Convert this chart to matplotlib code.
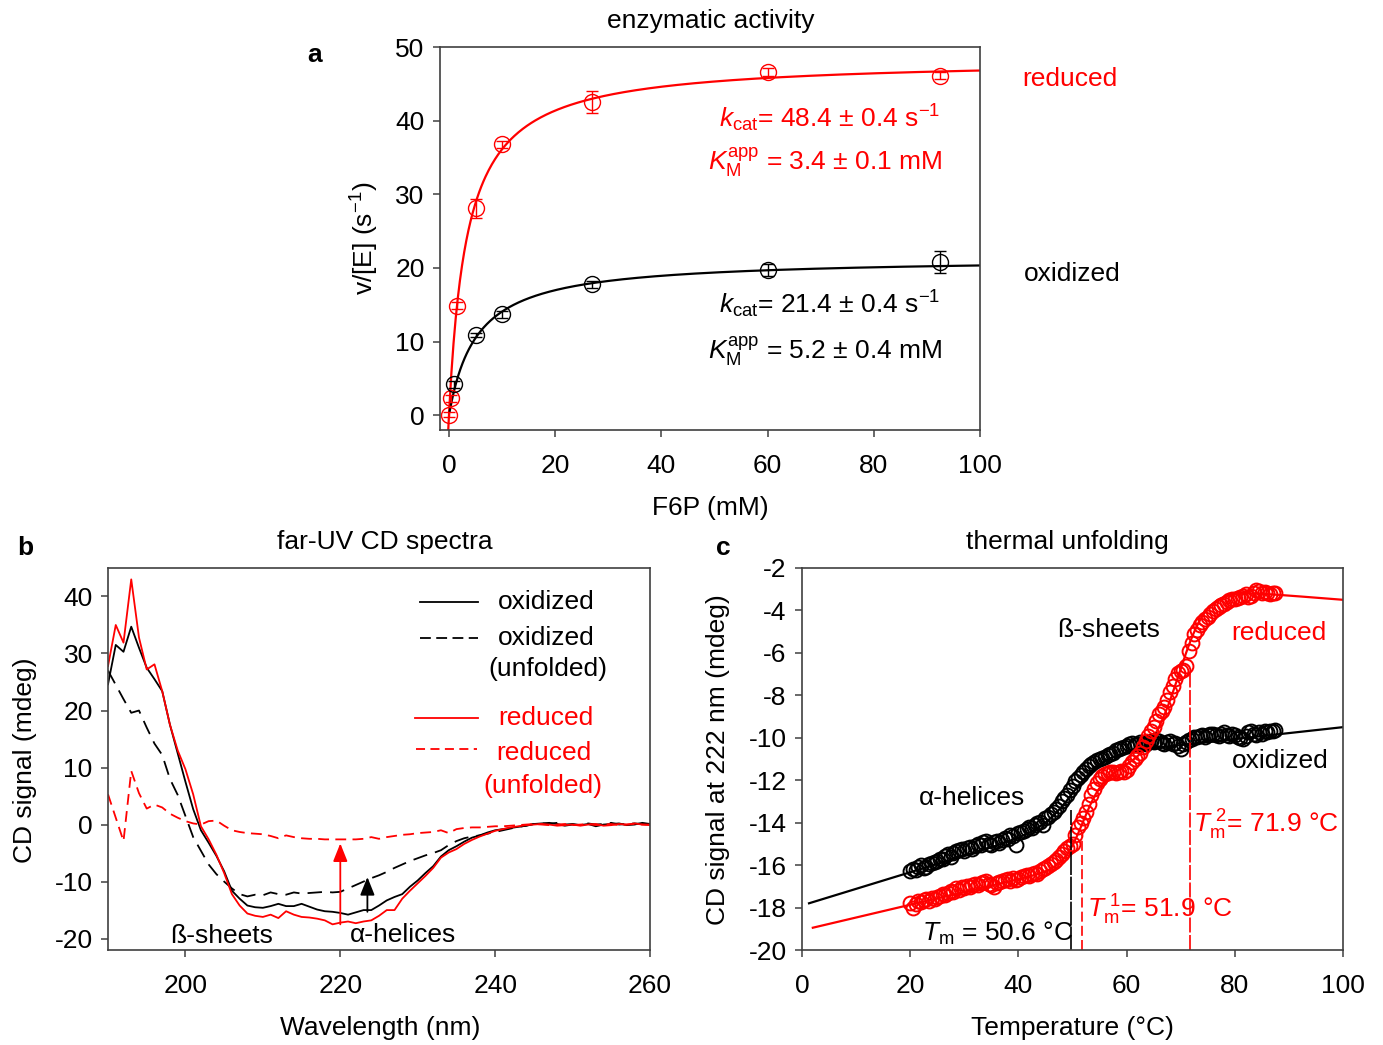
import numpy as np
import matplotlib
matplotlib.use("Agg")
import matplotlib.pyplot as plt

plt.rcParams['font.family'] = ['Liberation Sans', 'DejaVu Sans']
plt.rcParams['mathtext.fontset'] = 'custom'
plt.rcParams['mathtext.rm'] = 'Liberation Sans'
plt.rcParams['mathtext.it'] = 'Liberation Sans:italic'
plt.rcParams['mathtext.bf'] = 'Liberation Sans:bold'
plt.rcParams['axes.unicode_minus'] = False

FS = 19
RED = '#ff0000'
BLK = '#000000'
SPINE = '#404040'

# ---------------- panel a data ----------------
f6p_red = [0, 0.4, 1.5, 5, 10, 27, 60, 92.5]
v_red = [0.1, 2.3, 14.9, 28.1, 36.8, 42.5, 46.6, 46.1]
err_red = [0.3, 0.5, 0.5, 1.3, 0.5, 1.5, 0.5, 0.5]
f6p_ox = [1, 5, 10, 27, 60, 92.5]
v_ox = [4.2, 10.9, 13.7, 17.8, 19.7, 20.8]
err_ox = [0.5, 0.3, 0.5, 0.5, 0.8, 1.5]
kcat_red, km_red = 48.4, 3.4
kcat_ox, km_ox = 21.4, 5.2

# ---------------- panel b data ----------------
wl = list(range(190, 261))
cd_ox = [24.6, 31.5, 30.3, 34.7, 31.0, 27.5, 25.5, 23.4, 17.5, 12.5,
         7.5, 2.7, -1.0, -3.2, -5.5, -8.2, -11.6, -13.0, -14.2, -14.5,
         -14.6, -14.3, -13.9, -14.3, -14.3, -13.9, -14.4, -14.9, -15.2, -15.3,
         -15.5, -15.8, -15.4, -15.0, -15.0, -14.2, -13.3, -12.7, -12.2, -10.9,
         -9.8, -8.5, -7.3, -5.6, -4.5, -3.8, -3.0, -2.3, -1.9, -1.4,
         -1.0, -0.8, -0.6, -0.4, -0.2, 0.1, 0.2, 0.3, 0.1, -0.2,
         0.0, -0.1, 0.1, -0.3, 0.0, 0.1, 0.2, -0.1, 0.0, 0.3, 0.1]
cd_red = [27.8, 35.0, 31.9, 43.0, 32.8, 27.2, 28.1, 23.4, 17.5, 13.0,
          9.7, 5.3, -0.3, -2.6, -5.3, -8.5, -12.2, -14.2, -15.6, -16.0,
          -16.2, -15.8, -16.4, -15.2, -15.8, -16.2, -16.3, -16.5, -16.8, -17.5,
          -17.2, -17.0, -17.3, -17.0, -16.8, -16.0, -15.0, -15.0, -13.0, -11.6,
          -10.3, -9.0, -7.6, -5.8, -4.9, -4.3, -3.4, -2.7, -2.1, -1.6,
          -1.1, -0.8, -0.5, -0.3, -0.1, 0.0, 0.1, 0.0, -0.2, -0.1,
          0.0, -0.2, 0.0, 0.1, -0.2, -0.1, 0.1, 0.0, 0.2, 0.0, -0.1]
cd_ox_unf = [27.0, 24.5, 22.0, 19.6, 20.0, 17.0, 14.2, 12.2, 8.0, 5.2,
             1.5, -2.2, -4.6, -7.0, -8.7, -10.0, -11.2, -12.2, -12.6, -12.3,
             -12.4, -11.9, -12.2, -12.3, -11.9, -12.1, -12.0, -11.9, -11.8, -11.9,
             -11.8, -11.2, -10.6, -10.0, -9.4, -8.9, -8.3, -7.6, -7.0, -6.4,
             -5.9, -5.4, -5.0, -4.5, -3.6, -2.9, -2.4, -2.1, -1.9, -1.6,
             -1.3, -1.0, -0.7, -0.4, -0.2, 0.1, 0.2, 0.1, 0.3, 0.0,
             0.1, -0.1, 0.2, 0.0, 0.1, 0.3, 0.0, 0.1, 0.2, 0.1, 0.0]
cd_red_unf = [5.3, 1.2, -2.9, 9.4, 5.5, 2.8, 3.5, 3.0, 1.9, 1.2,
              0.6, 0.2, 0.0, 0.6, 0.7, -0.2, -1.0, -1.3, -1.5, -1.6,
              -1.7, -2.0, -2.4, -1.9, -2.2, -2.4, -2.5, -2.5, -2.6, -2.6,
              -2.6, -2.6, -2.6, -2.5, -2.2, -2.5, -2.2, -2.0, -1.8, -1.7,
              -1.5, -1.4, -1.3, -1.0, -1.5, -0.8, -0.6, -0.5, -0.5, -0.4,
              -0.3, -0.3, -0.2, -0.1, 0.0, 0.1, 0.0, -0.1, 0.0, 0.1,
              -0.1, 0.0, 0.1, -0.1, 0.0, 0.1, -0.1, 0.0, 0.1, 0.0, 0.0]
arrow_x = [220.0, 223.5]
arrow_from = [-17.5, -15.3]
arrow_to = [-3.3, -9.2]

# ---------------- panel c data ----------------
temp = [20 + 0.5 * i for i in range(136)]
cd222_ox = [-16.3, -16.2, -16.25, -16.1, -16.0, -16.15, -16.1, -15.95, -15.9, -15.85,
            -15.8, -15.7, -15.7, -15.55, -15.5, -15.6, -15.45, -15.35, -15.3, -15.25,
            -15.35, -15.2, -15.15, -15.25, -15.1, -15.0, -15.05, -14.9, -14.85, -15.0,
            -15.05, -14.9, -14.85, -14.95, -14.8, -14.7, -14.75, -14.6, -14.65, -15.05,
            -14.5, -14.45, -14.4, -14.3, -14.2, -14.25, -14.1, -14.0, -13.95, -14.1,
            -13.8, -13.75, -13.6, -13.5, -13.35, -13.2, -13.0, -12.85, -12.7, -12.45,
            -12.25, -12.05, -11.9, -11.75, -11.6, -11.45, -11.35, -11.25, -11.15, -11.05,
            -11.0, -10.95, -10.9, -10.8, -10.75, -10.7, -10.6, -10.55, -10.5, -10.45,
            -10.4, -10.3, -10.25, -10.35, -10.3, -10.2, -10.25, -10.3, -10.2, -10.15,
            -10.2, -10.1, -10.15, -10.25, -10.3, -10.2, -10.15, -10.3, -10.25, -10.4,
            -10.55, -10.3, -10.2, -10.1, -10.05, -9.95, -9.95, -9.9, -9.85, -9.95,
            -9.85, -9.8, -9.8, -9.85, -9.9, -9.8, -9.75, -9.85, -9.9, -9.8,
            -9.85, -9.95, -10.0, -10.05, -9.9, -9.75, -9.7, -9.8, -9.85, -9.75,
            -9.8, -9.7, -9.75, -9.7, -9.7, -9.65]
cd222_red = [-17.8, -18.0, -17.85, -17.7, -17.75, -17.65, -17.6, -17.7, -17.55, -17.6,
             -17.5, -17.45, -17.35, -17.4, -17.3, -17.2, -17.25, -17.1, -17.15, -17.05,
             -17.1, -17.0, -17.05, -16.95, -16.9, -16.95, -16.85, -16.8, -16.75, -16.9,
             -16.95, -17.05, -16.85, -16.8, -16.75, -16.7, -16.65, -16.75, -16.6, -16.7,
             -16.65, -16.55, -16.5, -16.45, -16.5, -16.4, -16.35, -16.4, -16.3, -16.2,
             -16.15, -16.05, -15.95, -15.85, -15.75, -15.6, -15.5, -15.35, -15.2, -15.1,
             -15.0, -14.6, -14.2, -14.0, -13.8, -13.5, -13.1, -12.7, -12.4, -12.15,
             -11.95, -11.8, -11.7, -11.65, -11.6, -11.6, -11.65, -11.6, -11.55, -11.6,
             -11.5, -11.35, -11.15, -11.0, -10.85, -10.7, -10.45, -10.15, -9.9, -9.7,
             -9.5, -9.2, -8.9, -8.75, -8.55, -8.2, -7.85, -7.55, -7.25, -6.95,
             -6.85, -6.8, -6.6, -5.9, -5.55, -5.1, -4.9, -4.7, -4.55, -4.4,
             -4.3, -4.15, -4.05, -3.95, -3.85, -3.75, -3.7, -3.6, -3.5, -3.45,
             -3.45, -3.4, -3.35, -3.3, -3.25, -3.35, -3.3, -3.2, -3.05, -3.1,
             -3.2, -3.15, -3.2, -3.25, -3.2, -3.2]
# two-state fit curve (oxidized): lower baseline a1+b1*T, upper a2+b2*T
fit_ox = dict(a1=-17.9, b1=0.078, a2=-12.3, b2=0.028, tm=50.6, w=2.8)
# three-state fit curve (reduced)
fit_red = dict(a1=-19.07, b1=0.06, mid=-11.55, mid_slope=0.08, mid_ref=58.0,
               a3=-1.5, b3=-0.02, tm1=51.9, w1=1.8, tm2=70.0, w2=2.6)
tm_lines_x = [49.7, 51.8, 71.8]
tm_lines_top = [-13.4, -14.6, -6.8]

# ---------------- figure ----------------
fig = plt.figure(figsize=(13.83, 10.45), dpi=100)


def style_axes(ax, xpad=12, ypad=6):
    for s in ax.spines.values():
        s.set_color(SPINE)
        s.set_linewidth(1.2)
    ax.tick_params(direction='out', length=5, width=1.1, color=SPINE,
                   labelsize=FS, top=False, right=False)
    ax.tick_params(axis='x', pad=xpad)
    ax.tick_params(axis='y', pad=ypad)


# ---- panel a ----
axa = fig.add_axes([0.3181, 0.5885, 0.3905, 0.3665])
xr = np.linspace(-0.14, 100, 500)
xo = np.linspace(0.15, 100, 500)
axa.plot(xr, kcat_red * xr / (km_red + xr), color=RED, lw=1.6)
axa.plot(xo, kcat_ox * xo / (km_ox + xo), color=BLK, lw=1.6)
axa.errorbar(f6p_red, v_red, yerr=err_red, fmt='o', mfc='none', mec=RED,
             ecolor=RED, ms=11.5, mew=1.0, elinewidth=1.0, capsize=4.3, capthick=1.0)
axa.errorbar(f6p_ox, v_ox, yerr=err_ox, fmt='o', mfc='none', mec=BLK,
             ecolor=BLK, ms=11.5, mew=1.0, elinewidth=1.0, capsize=4.3, capthick=1.0)
axa.set_xlim(-1.7, 100)
axa.set_ylim(-2, 50)
axa.set_xticks([0, 20, 40, 60, 80, 100])
axa.set_yticks([0, 10, 20, 30, 40, 50])
style_axes(axa)
axa.text(0.926, 0.791, r"$k_{\mathrm{cat}}$= 48.4 ± 0.4 s$^{\mathrm{-1}}$",
         transform=axa.transAxes, ha='right', va='baseline', color=RED, fontsize=FS)
axa.text(0.93, 0.679, r"$K_{\mathrm{M}}^{\mathrm{app}}$ = 3.4 ± 0.1 mM",
         transform=axa.transAxes, ha='right', va='baseline', color=RED, fontsize=FS)
axa.text(0.926, 0.305, r"$k_{\mathrm{cat}}$= 21.4 ± 0.4 s$^{\mathrm{-1}}$",
         transform=axa.transAxes, ha='right', va='baseline', color=BLK, fontsize=FS)
axa.text(0.93, 0.185, r"$K_{\mathrm{M}}^{\mathrm{app}}$ = 5.2 ± 0.4 mM",
         transform=axa.transAxes, ha='right', va='baseline', color=BLK, fontsize=FS)
axa.text(1.078, 0.917, "reduced", transform=axa.transAxes, ha='left', va='center',
         color=RED, fontsize=FS)
axa.text(1.081, 0.408, "oxidized", transform=axa.transAxes, ha='left', va='center',
         color=BLK, fontsize=FS)

# ---- panel b ----
axb = fig.add_axes([0.0781, 0.0909, 0.3919, 0.3656])
DASH_B = (0, (8, 4.5))
DASH_R = (0, (6, 3.5))
axb.plot(wl, cd_ox, color=BLK, lw=1.3)
axb.plot(wl, cd_ox_unf, color=BLK, lw=1.3, ls=DASH_B)
axb.plot(wl, cd_red, color=RED, lw=1.3)
axb.plot(wl, cd_red_unf, color=RED, lw=1.3, ls=DASH_R)
for xa, y0, y1, c in zip(arrow_x, arrow_from, arrow_to, [RED, BLK]):
    axb.annotate('', xy=(xa, y1), xytext=(xa, y0),
                 arrowprops=dict(arrowstyle='-|>,head_length=0.55,head_width=0.22',
                                 mutation_scale=20, color=c, lw=1.3,
                                 shrinkA=0, shrinkB=0))
axb.set_xlim(190, 260)
axb.set_ylim(-22, 45)
axb.set_xticks([200, 220, 240, 260])
axb.set_yticks([-20, -10, 0, 10, 20, 30, 40])
style_axes(axb)
# manual legend
leg_y = [39.1, 32.8, 18.6, 13.2]
axb.plot([230.3, 237.8], [leg_y[0]] * 2, color=BLK, lw=1.3)
axb.plot([230.3, 237.8], [leg_y[1]] * 2, color=BLK, lw=1.3, ls=(0, (6, 3)))
axb.plot([229.7, 237.8], [leg_y[2]] * 2, color=RED, lw=1.3)
axb.plot([229.8, 237.6], [leg_y[3]] * 2, color=RED, lw=1.3, ls=(0, (5, 3)))
axb.text(246.6, 39.1, "oxidized", ha='center', va='center', fontsize=FS, color=BLK)
axb.text(246.6, 32.8, "oxidized", ha='center', va='center', fontsize=FS, color=BLK)
axb.text(246.8, 27.2, "(unfolded)", ha='center', va='center', fontsize=FS, color=BLK)
axb.text(246.6, 18.6, "reduced", ha='center', va='center', fontsize=FS, color=RED)
axb.text(246.3, 12.5, "reduced", ha='center', va='center', fontsize=FS, color=RED)
axb.text(246.1, 6.8, "(unfolded)", ha='center', va='center', fontsize=FS, color=RED)
axb.text(204.7, -19.6, "ß-sheets", ha='center', va='center', fontsize=FS)
axb.text(228.1, -19.3, "α-helices", ha='center', va='center', fontsize=FS)

# ---- panel c ----
axc = fig.add_axes([0.5799, 0.0909, 0.3912, 0.3656])
to = np.linspace(1.3, 100, 400)
fo = fit_ox
lo = fo['a1'] + fo['b1'] * to
uo = fo['a2'] + fo['b2'] * to
axc.plot(to, lo + (uo - lo) / (1 + np.exp((fo['tm'] - to) / fo['w'])), color=BLK, lw=1.6)
tr = np.linspace(2, 100, 400)
fr = fit_red
lr = fr['a1'] + fr['b1'] * tr
mr = fr['mid'] + fr['mid_slope'] * (tr - fr['mid_ref'])
ur = fr['a3'] + fr['b3'] * tr
f1 = 1 / (1 + np.exp((fr['tm1'] - tr) / fr['w1']))
f2 = 1 / (1 + np.exp((fr['tm2'] - tr) / fr['w2']))
axc.plot(tr, lr + (mr - lr) * f1 + (ur - mr) * f2, color=RED, lw=1.6)
axc.plot(temp, cd222_ox, 'o', mfc='none', mec=BLK, ms=10.0, mew=1.4)
axc.plot(temp, cd222_red, 'o', mfc='none', mec=RED, ms=10.0, mew=1.4)
axc.plot([tm_lines_x[0]] * 2, [-20, tm_lines_top[0]], color=BLK, lw=1.2, ls=(0, (14, 1)))
axc.plot([tm_lines_x[1]] * 2, [-20, tm_lines_top[1]], color=RED, lw=1.2, ls=(0, (6, 2.5)))
axc.plot([tm_lines_x[2]] * 2, [-20, tm_lines_top[2]], color=RED, lw=1.2, ls=(0, (9, 1.5)))
axc.set_xlim(0, 100)
axc.set_ylim(-20, -2)
axc.set_xticks([0, 20, 40, 60, 80, 100])
axc.set_yticks(list(range(-20, -1, 2)))
style_axes(axc)
axc.text(56.6, -4.93, "ß-sheets", ha='center', va='center', fontsize=FS)
axc.text(88.2, -5.07, "reduced", ha='center', va='center', fontsize=FS, color=RED)
axc.text(88.4, -11.1, "oxidized", ha='center', va='center', fontsize=FS)
axc.text(31.4, -12.84, "α-helices", ha='center', va='center', fontsize=FS)
axc.text(22.2, -19.57, r"$T_{\mathrm{m}}$ = 50.6 °C", ha='left', va='baseline', fontsize=FS)
axc.text(52.7, -18.48, r"$T_{\mathrm{m}}^{\ \mathrm{1}}$= 51.9 °C", ha='left', va='baseline',
         fontsize=FS, color=RED)
axc.text(72.3, -14.45, r"$T_{\mathrm{m}}^{\ \mathrm{2}}$= 71.9 °C", ha='left', va='baseline',
         fontsize=FS, color=RED)

# ---- figure-level labels ----
fig.text(0.514, 0.980, "enzymatic activity", ha='center', va='center', fontsize=FS)
fig.text(0.2784, 0.4813, "far-UV CD spectra", ha='center', va='center', fontsize=FS)
fig.text(0.7715, 0.4813, "thermal unfolding", ha='center', va='center', fontsize=FS)
fig.text(0.2278, 0.9474, "a", ha='center', va='center', fontsize=FS, fontweight='bold')
fig.text(0.0181, 0.4756, "b", ha='center', va='center', fontsize=FS, fontweight='bold')
fig.text(0.5228, 0.4756, "c", ha='center', va='center', fontsize=FS, fontweight='bold')
fig.text(0.264, 0.772, r"v/[E] (s$^{\mathrm{-1}}$)", rotation=90, ha='center', va='center', fontsize=FS)
fig.text(0.018, 0.2727, "CD signal (mdeg)", rotation=90, ha='center', va='center', fontsize=FS)
fig.text(0.519, 0.2727, "CD signal at 222 nm (mdeg)", rotation=90, ha='center', va='center', fontsize=FS)
fig.text(0.5134, 0.5139, "F6P (mM)", ha='center', va='center', fontsize=FS)
fig.text(0.2748, 0.0163, "Wavelength (nm)", ha='center', va='center', fontsize=FS)
fig.text(0.7758, 0.0163, "Temperature (°C)", ha='center', va='center', fontsize=FS)

fig.savefig("out.png", dpi=100)
